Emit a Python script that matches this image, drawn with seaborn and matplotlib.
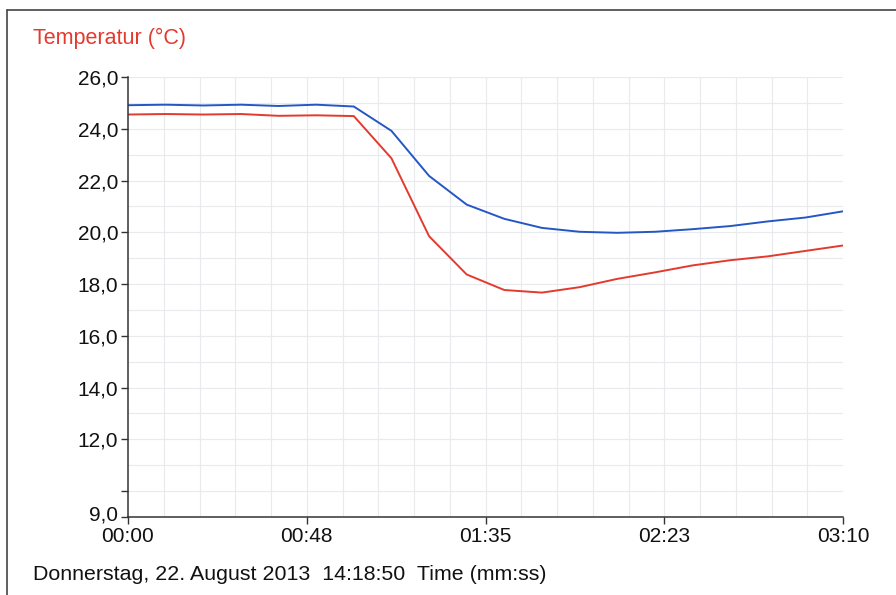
import numpy as np
import pandas as pd
import matplotlib
matplotlib.use("Agg")
import matplotlib.pyplot as plt
import matplotlib.transforms as mtransforms
from matplotlib.lines import Line2D
from matplotlib.ticker import FixedLocator
import seaborn as sns

# --- DATA ---
time_s = [0, 10, 20, 30, 40, 50, 60, 70, 80, 90, 100,
          110, 120, 130, 140, 150, 160, 170, 180, 190]
temp_blue = [24.91, 24.93, 24.90, 24.93, 24.88, 24.93, 24.86, 23.92, 22.18, 21.07,
             20.52, 20.17, 20.02, 19.98, 20.02, 20.12, 20.24, 20.42, 20.57, 20.81]
temp_red = [24.55, 24.57, 24.55, 24.57, 24.50, 24.52, 24.49, 22.86, 19.85, 18.37,
            17.77, 17.67, 17.88, 18.20, 18.45, 18.72, 18.92, 19.07, 19.28, 19.49]

y_ticks = [9, 10, 12, 14, 16, 18, 20, 22, 24, 26]
y_labels = ["9,0", "", "12,0", "14,0", "16,0", "18,0", "20,0", "22,0", "24,0", "26,0"]
x_ticks = [0, 47.5, 95, 142.5, 190]
x_labels = ["00:00", "00:48", "01:35", "02:23", "03:10"]

title_text = "Temperatur (°C)"
footer_text = "Donnerstag, 22. August 2013  14:18:50  Time (mm:ss)"

RED = "#e33a2e"
BLUE = "#2457c5"

df = pd.DataFrame({"t": time_s, "blue": temp_blue, "red": temp_red})

sns.set_theme(style="white")
plt.rcParams["font.family"] = ["Liberation Sans", "DejaVu Sans"]

fig = plt.figure(figsize=(8.96, 5.95), dpi=100)
ax = fig.add_axes([128 / 896, 1 - 517 / 595, (843 - 128) / 896, (517 - 77) / 595])

# light grid
for v in np.arange(9.5, 190, 9.5):
    ax.axvline(v, color="#e8eaee", lw=0.8, zorder=0)
for h in range(10, 27):
    ax.axhline(h, color="#e8eaee", lw=0.8, zorder=0)

sns.lineplot(data=df, x="t", y="blue", color=BLUE, lw=1.4, ax=ax)
sns.lineplot(data=df, x="t", y="red", color=RED, lw=1.4, ax=ax)

ax.set_xlim(0, 190)
ax.set_ylim(9, 26)
ax.yaxis.set_major_locator(FixedLocator(y_ticks))
ax.set_yticklabels(y_labels)
ax.xaxis.set_major_locator(FixedLocator(x_ticks))
ax.set_xticklabels(x_labels)
ax.set_xlabel("")
ax.set_ylabel("")
ax.tick_params(axis="both", which="major", direction="out", length=5, width=1,
               color="#333333", labelsize=15, labelcolor="#111111", pad=2, left=True, bottom=True)
ax.tick_params(axis="x", pad=2)

# the bottom y label sits a little higher so it clears 00:00
lbl = ax.get_yticklabels()[0]
lbl.set_transform(lbl.get_transform() + mtransforms.ScaledTranslation(0, 4 / 100, fig.dpi_scale_trans))

for side in ["top", "right"]:
    ax.spines[side].set_visible(False)
for side in ["left", "bottom"]:
    ax.spines[side].set_color("#333333")
    ax.spines[side].set_linewidth(1.1)

fig.text(33 / 896, 1 - 38 / 595, title_text, color=RED, fontsize=15.5, va="center", ha="left")
fig.text(33 / 896, 1 - 574 / 595, footer_text, color="#111111", fontsize=15.4, va="center", ha="left")

# outer frame (left and top edges)
fr = dict(color="#444444", lw=1.2, transform=fig.transFigure)
fig.add_artist(Line2D([7 / 896, 7 / 896], [1 - 10 / 595, 0], **fr))
fig.add_artist(Line2D([7 / 896, 1], [1 - 10 / 595, 1 - 10 / 595], **fr))

fig.savefig("out.png", dpi=100, facecolor="white")
